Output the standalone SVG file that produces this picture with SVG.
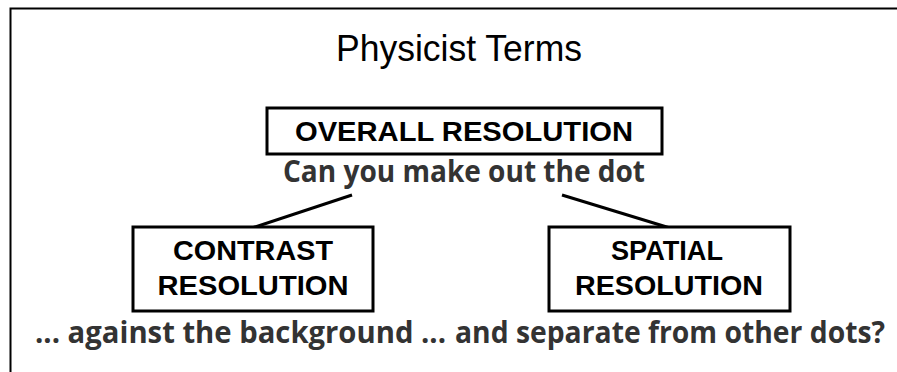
<svg xmlns="http://www.w3.org/2000/svg" width="897" height="372" viewBox="0 0 897 372">
<style>
.box{fill:#fff;stroke:#000;stroke-width:3}
.lbl{font-family:"Liberation Sans",Arial,sans-serif;font-weight:bold;font-size:27px;fill:#000;text-anchor:middle}
.sub{font-family:"Open Sans","Lato",sans-serif;font-weight:bold;font-size:31px;fill:#333;text-anchor:middle}
.cap{font-family:"Open Sans","Lato",sans-serif;font-weight:bold;font-size:31px;fill:#333}
.conn{stroke:#000;stroke-width:3;fill:none}
</style>
<rect width="897" height="372" fill="#fff"/>
<path d="M10.5 372 V8.5 H897" fill="none" stroke="#000" stroke-width="2"/>
<text x="459" y="61" font-family="Liberation Sans,Arial,sans-serif" font-size="37" text-anchor="middle" textLength="246" lengthAdjust="spacingAndGlyphs">Physicist Terms</text>
<g id="connectors">
<line class="conn" x1="352" y1="195" x2="252" y2="228"/>
<line class="conn" x1="562" y1="195" x2="670" y2="228"/>
</g>
<g id="overall">
<rect class="box" x="267" y="108" width="395" height="46"/>
<text class="lbl" x="464" y="141" textLength="338" lengthAdjust="spacingAndGlyphs">OVERALL RESOLUTION</text>
<text class="sub" x="464" y="182" textLength="362" lengthAdjust="spacingAndGlyphs">Can you make out the dot</text>
</g>
<g id="contrast">
<rect class="box" x="133" y="227" width="240" height="84"/>
<text class="lbl" x="253" y="260" textLength="160" lengthAdjust="spacingAndGlyphs">CONTRAST</text>
<text class="lbl" x="253" y="295" textLength="191" lengthAdjust="spacingAndGlyphs">RESOLUTION</text>
<text class="cap" x="35" y="343" textLength="411" lengthAdjust="spacingAndGlyphs">... against the background ...</text>
</g>
<g id="spatial">
<rect class="box" x="549" y="227" width="241" height="84"/>
<text class="lbl" x="667" y="260" textLength="112" lengthAdjust="spacingAndGlyphs">SPATIAL</text>
<text class="lbl" x="669" y="295" textLength="188" lengthAdjust="spacingAndGlyphs">RESOLUTION</text>
<g transform="translate(0 343) scale(1 1.24) translate(0 -343)">
<text class="cap" x="455" y="343" style="font-size:25px" textLength="430" lengthAdjust="spacingAndGlyphs">and separate from other dots?</text>
</g>
</g>
</svg>
